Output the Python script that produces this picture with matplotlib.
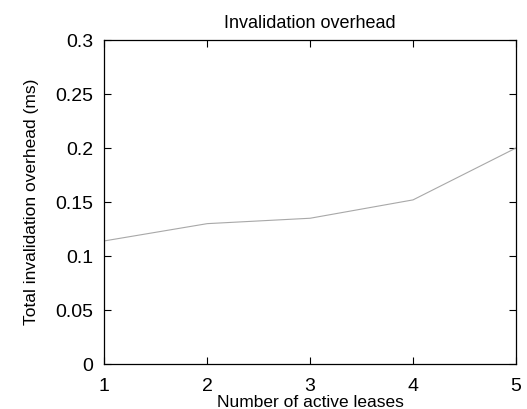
import matplotlib
matplotlib.use("Agg")
import matplotlib.pyplot as plt

# data
leases = [1, 2, 3, 4, 5]
overhead = [0.114, 0.130, 0.135, 0.152, 0.200]
xticks = [1, 2, 3, 4, 5]
yticks = [0, 0.05, 0.1, 0.15, 0.2, 0.25, 0.3]
ytick_labels = ["0", "0.05", "0.1", "0.15", "0.2", "0.25", "0.3"]

plt.rcParams['font.family'] = ['Liberation Sans', 'DejaVu Sans']

fig = plt.figure(figsize=(5.27, 4.09), dpi=100)
ax = fig.add_axes([0.198, 0.110, 0.781, 0.792])

ax.plot(leases, overhead, color='#a8a8a8', linewidth=0.8)

ax.set_xlim(1, 5)
ax.set_ylim(0, 0.3)
ax.set_xticks(xticks)
ax.set_yticks(yticks)
ax.set_yticklabels(ytick_labels)
ax.tick_params(direction='in', top=True, right=True, labelsize=14, length=5, width=0.8)
ax.tick_params(axis='x', pad=10)
ax.tick_params(axis='y', pad=8)
for s in ax.spines.values():
    s.set_linewidth(0.9)

ax.set_title('Invalidation overhead', fontsize=13, pad=9)
ax.set_xlabel('Number of active leases', fontsize=12.5, labelpad=0)
ax.set_ylabel('Total invalidation overhead (ms)', fontsize=12.5, labelpad=12)

fig.savefig('out.png', dpi=100)
